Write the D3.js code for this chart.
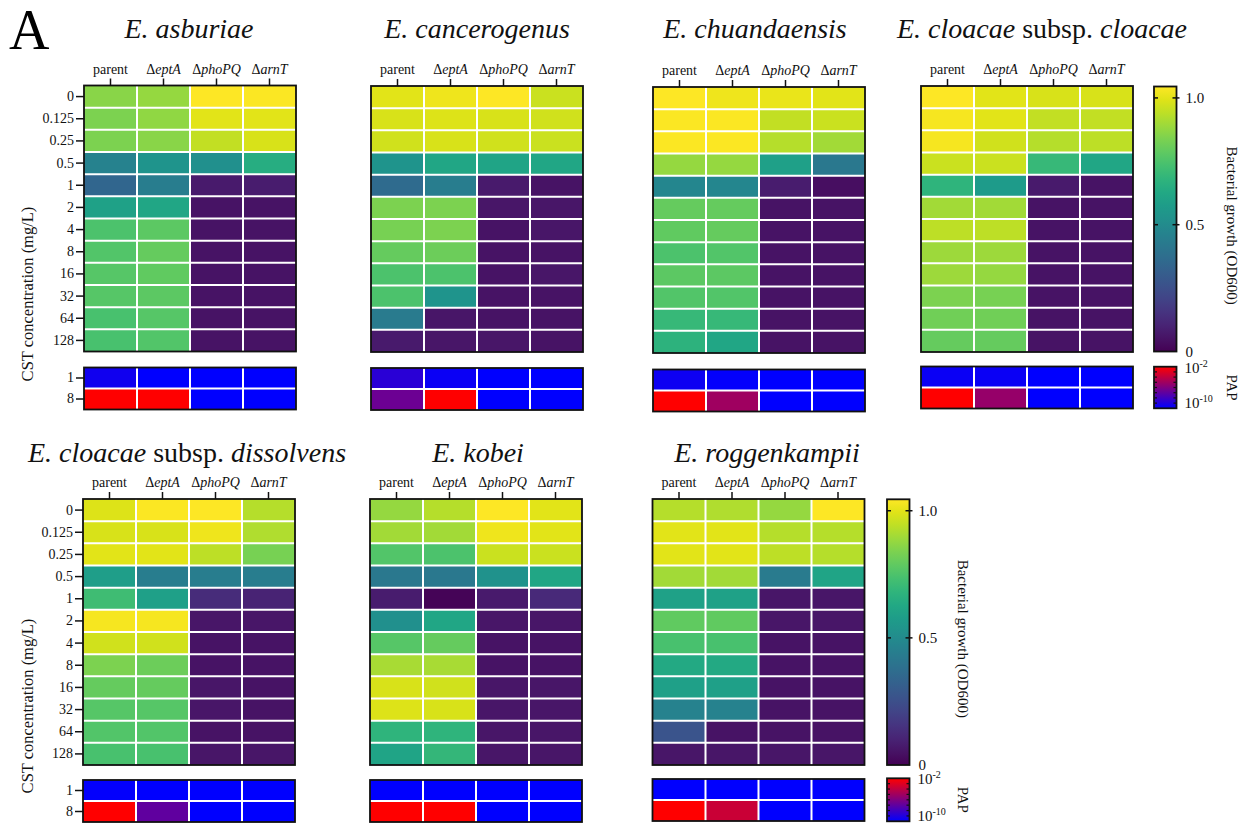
<!DOCTYPE html>
<html>
<head>
<meta charset="utf-8">
<script src="https://cdn.jsdelivr.net/npm/d3@7"></script>
<style>
  body { margin: 0; background: #fff; }
  svg, svg text { font-family: "Liberation Serif", "Times New Roman", serif; }
</style>
</head>
<body>
<div id="chart"></div>
<script>
// CST concentrations (mg/L) on the rows, strains on the columns
const concentrations = ["0", "0.125", "0.25", "0.5", "1", "2", "4", "8", "16", "32", "64", "128"];
const strains = ["parent", "eptA", "phoPQ", "arnT"];
const papConcentrations = ["1", "8"];

// bacterial growth (OD600), one row per concentration: parent, eptA, phoPQ, arnT
const growthAsburiae = [
    [0.86, 0.88, 1.05, 1.04],
    [0.84, 0.87, 1.00, 1.00],
    [0.84, 0.86, 0.95, 0.98],
    [0.46, 0.54, 0.52, 0.65],
    [0.34, 0.44, 0.07, 0.08],
    [0.60, 0.62, 0.05, 0.05],
    [0.75, 0.78, 0.05, 0.05],
    [0.76, 0.80, 0.05, 0.05],
    [0.77, 0.79, 0.05, 0.05],
    [0.77, 0.78, 0.05, 0.05],
    [0.74, 0.77, 0.05, 0.05],
    [0.74, 0.76, 0.05, 0.05]
];
const growthCancerogenus = [
    [1.00, 1.02, 1.05, 0.96],
    [0.98, 0.99, 0.98, 0.97],
    [0.97, 0.98, 0.97, 0.96],
    [0.54, 0.62, 0.61, 0.62],
    [0.36, 0.44, 0.07, 0.05],
    [0.84, 0.84, 0.06, 0.06],
    [0.83, 0.84, 0.05, 0.06],
    [0.80, 0.81, 0.05, 0.05],
    [0.75, 0.75, 0.05, 0.06],
    [0.75, 0.54, 0.05, 0.05],
    [0.43, 0.06, 0.05, 0.05],
    [0.07, 0.06, 0.06, 0.05]
];
const growthChuandaensis = [
    [1.05, 1.02, 1.01, 1.00],
    [1.04, 1.04, 0.95, 0.96],
    [1.04, 1.04, 0.93, 0.90],
    [0.88, 0.88, 0.59, 0.42],
    [0.48, 0.48, 0.08, 0.04],
    [0.80, 0.80, 0.05, 0.05],
    [0.79, 0.80, 0.05, 0.05],
    [0.75, 0.76, 0.05, 0.05],
    [0.78, 0.78, 0.05, 0.05],
    [0.76, 0.76, 0.05, 0.05],
    [0.70, 0.70, 0.05, 0.05],
    [0.67, 0.62, 0.05, 0.05]
];
const growthCloacae = [
    [1.05, 1.00, 0.98, 0.98],
    [1.03, 1.00, 0.95, 0.95],
    [1.03, 0.97, 0.93, 0.94],
    [0.96, 0.96, 0.70, 0.62],
    [0.68, 0.57, 0.07, 0.05],
    [0.90, 0.90, 0.05, 0.05],
    [0.94, 0.94, 0.05, 0.05],
    [0.89, 0.89, 0.05, 0.05],
    [0.89, 0.88, 0.05, 0.05],
    [0.84, 0.83, 0.05, 0.05],
    [0.82, 0.82, 0.05, 0.05],
    [0.80, 0.80, 0.05, 0.05]
];
const growthDissolvens = [
    [0.99, 1.04, 1.05, 0.93],
    [0.98, 0.98, 1.02, 0.92],
    [1.00, 1.00, 0.94, 0.83],
    [0.58, 0.44, 0.44, 0.44],
    [0.72, 0.59, 0.13, 0.10],
    [1.03, 1.03, 0.06, 0.06],
    [0.97, 0.97, 0.05, 0.05],
    [0.84, 0.81, 0.05, 0.05],
    [0.80, 0.80, 0.06, 0.05],
    [0.77, 0.77, 0.06, 0.05],
    [0.76, 0.76, 0.05, 0.05],
    [0.74, 0.74, 0.06, 0.06]
];
const growthKobei = [
    [0.88, 0.93, 1.05, 1.00],
    [0.90, 0.90, 1.02, 1.00],
    [0.76, 0.75, 0.96, 0.96],
    [0.42, 0.42, 0.53, 0.62],
    [0.08, 0.01, 0.07, 0.12],
    [0.52, 0.62, 0.06, 0.06],
    [0.77, 0.80, 0.05, 0.05],
    [0.91, 0.91, 0.05, 0.05],
    [0.98, 0.97, 0.06, 0.06],
    [0.99, 0.98, 0.06, 0.06],
    [0.68, 0.68, 0.06, 0.06],
    [0.61, 0.69, 0.06, 0.06]
];
const growthRoggenkampii = [
    [0.93, 0.92, 0.88, 1.05],
    [1.00, 1.00, 0.93, 0.93],
    [1.00, 1.00, 0.94, 0.93],
    [0.90, 0.90, 0.43, 0.61],
    [0.60, 0.60, 0.06, 0.06],
    [0.79, 0.79, 0.06, 0.06],
    [0.74, 0.74, 0.05, 0.05],
    [0.63, 0.63, 0.05, 0.05],
    [0.59, 0.59, 0.05, 0.05],
    [0.46, 0.46, 0.05, 0.05],
    [0.27, 0.05, 0.05, 0.05],
    [0.06, 0.06, 0.06, 0.06]
];

// PAP, log10 frequency, rows 1 and 8 mg/L
const papAsburiae      = [[-9.5, -10, -10, -10], [-2, -2, -10, -10]];
const papCancerogenus  = [[-8.7, -9.7, -10, -10], [-6.6, -2, -10, -10]];
const papChuandaensis  = [[-9.6, -9.9, -10, -10], [-2, -5.0, -10, -10]];
const papCloacae       = [[-9.7, -9.7, -10, -10], [-2, -5.3, -10, -10]];
const papDissolvens    = [[-9.9, -10, -10, -10], [-2, -7.0, -10, -10]];
const papKobei         = [[-10, -10, -10, -10], [-2, -2, -10, -10]];
const papRoggenkampii  = [[-10, -10, -10, -10], [-2, -3.7, -10, -10]];

// title pieces: [text, italic]
const titles = [
    [["E. asburiae", true]],
    [["E. cancerogenus", true]],
    [["E. chuandaensis", true]],
    [["E. cloacae", true], [" subsp. ", false], ["cloacae", true]],
    [["E. cloacae", true], [" subsp. ", false], ["dissolvens", true]],
    [["E. kobei", true]],
    [["E. roggenkampii", true]]
];
const growthSets = [growthAsburiae, growthCancerogenus, growthChuandaensis, growthCloacae,
    growthDissolvens, growthKobei, growthRoggenkampii];
const papSets = [papAsburiae, papCancerogenus, papChuandaensis, papCloacae,
    papDissolvens, papKobei, papRoggenkampii];

// layout
const FONT = '"Liberation Serif", "Times New Roman", serif';
const W = 212, H = 266, PH = 42;
const panels = [
    {x: 84,    y: 85.5, papY: 367.5, tx: 189,  ty: 38,  axis: true,  ly: 294},
    {x: 371,   y: 86,   papY: 368,   tx: 477,  ty: 38},
    {x: 653,   y: 87,   papY: 369.5, tx: 755,  ty: 38},
    {x: 921,   y: 86,   papY: 366.5, tx: 1042, ty: 38},
    {x: 83,    y: 499,  papY: 780,   tx: 187,  ty: 462, axis: true, ly: 706},
    {x: 370,   y: 499,  papY: 780,   tx: 478,  ty: 462},
    {x: 652.5, y: 499,  papY: 779,   tx: 767,  ty: 462}
];
const colorbars = [
    {x: 1154, y: 86.5, h: 265, papY: 366.7, papH: 41.6, lx: 1227},
    {x: 887,  y: 499.3, h: 265.7, papY: 778.3, papH: 43, lx: 958}
];

const svg = d3.select('#chart').append('svg')
    .attr('width', 1243)
    .attr('height', 827)
    .attr('font-family', FONT);

const color = d3.scaleSequential(d3.interpolateViridis).domain([0, 1.045]);
const papColor = d3.scaleLinear().domain([-10, -2]).range(['#0000ff', '#ff0000'])
    .interpolate(d3.interpolateRgb);

svg.append('text')
    .attr('x', 9).attr('y', 49)
    .attr('font-size', 56)
    .text('A');

function drawGrid(g, x, y, w, h) {
    // white separators then black frame
    x.domain().slice(1).forEach(d => {
        g.append('line').attr('x1', x(d)).attr('x2', x(d)).attr('y1', 0).attr('y2', h)
            .attr('stroke', '#fff').attr('stroke-width', 2);
    });
    y.domain().slice(1).forEach(d => {
        g.append('line').attr('x1', 0).attr('x2', w).attr('y1', y(d)).attr('y2', y(d))
            .attr('stroke', '#fff').attr('stroke-width', 2);
    });
    g.append('rect').attr('width', w).attr('height', h)
        .attr('fill', 'none').attr('stroke', '#111').attr('stroke-width', 1.8);
}

function styleAxis(a) {
    a.attr('font-family', FONT).attr('font-size', 14);
    a.select('.domain').remove();
    a.selectAll('.tick line').attr('stroke', '#111').attr('stroke-width', 1.5);
    a.selectAll('.tick text').attr('font-family', FONT).attr('font-size', 14).attr('fill', '#111');
}

function drawPanel(p, i) {
    const growth = growthSets[i];
    const pap = papSets[i];

    const x = d3.scaleBand().domain(strains).range([0, W]);
    const y = d3.scaleBand().domain(concentrations).range([0, H]);
    const yp = d3.scaleBand().domain(papConcentrations).range([0, PH]);

    const g = svg.append('g').attr('transform', `translate(${p.x},${p.y})`);
    const cells = [];
    growth.forEach((row, r) => row.forEach((v, c) => cells.push({r: concentrations[r], c: strains[c], v})));
    g.selectAll('rect.cell')
        .data(cells)
        .enter().append('rect')
        .attr('class', 'cell')
        .attr('x', d => x(d.c))
        .attr('y', d => y(d.r))
        .attr('width', x.bandwidth())
        .attr('height', y.bandwidth())
        .attr('fill', d => color(d.v));
    drawGrid(g, x, y, W, H);

    // column labels
    const xa = g.append('g').call(d3.axisTop(x).tickSize(7).tickFormat(''));
    styleAxis(xa);
    const lab = g.selectAll('text.col')
        .data(strains)
        .enter().append('text')
        .attr('class', 'col')
        .attr('x', d => x(d) + x.bandwidth() / 2)
        .attr('y', -12)
        .attr('text-anchor', 'middle')
        .attr('font-family', FONT)
        .attr('font-size', 14)
        .attr('fill', '#111');
    lab.each(function(d) {
        const t = d3.select(this);
        if (d === 'parent') { t.text(d); return; }
        t.append('tspan').text('\u0394');
        t.append('tspan').attr('font-style', 'italic').text(d);
    });

    const gp = svg.append('g').attr('transform', `translate(${p.x},${p.papY})`);
    const pcells = [];
    pap.forEach((row, r) => row.forEach((v, c) => pcells.push({r: papConcentrations[r], c: strains[c], v})));
    gp.selectAll('rect.cell')
        .data(pcells)
        .enter().append('rect')
        .attr('class', 'cell')
        .attr('x', d => x(d.c))
        .attr('y', d => yp(d.r))
        .attr('width', x.bandwidth())
        .attr('height', yp.bandwidth())
        .attr('fill', d => papColor(d.v));
    drawGrid(gp, x, yp, W, PH);

    if (p.axis) {
        styleAxis(g.append('g').call(d3.axisLeft(y).tickSize(8).tickPadding(2)));
        styleAxis(gp.append('g').call(d3.axisLeft(yp).tickSize(8).tickPadding(2)));
        svg.append('text')
            .attr('transform', `translate(33,${p.ly}) rotate(-90)`)
            .attr('text-anchor', 'middle')
            .attr('font-family', FONT)
            .attr('font-size', 16.5)
            .attr('fill', '#111')
            .text('CST concentration (mg/L)');
    }

    const title = svg.append('text')
        .attr('x', p.tx).attr('y', p.ty)
        .attr('text-anchor', 'middle')
        .attr('font-family', FONT)
        .attr('font-size', 28)
        .attr('fill', '#111');
    titles[i].forEach(([s, it]) => {
        title.append('tspan').attr('font-style', it ? 'italic' : 'normal').text(s);
    });
}

panels.forEach(drawPanel);

const defs = svg.append('defs');
const vg = defs.append('linearGradient').attr('id', 'viridis')
    .attr('x1', 0).attr('x2', 0).attr('y1', 1).attr('y2', 0);
d3.range(0, 1.0001, 0.05).forEach(t => {
    vg.append('stop').attr('offset', t).attr('stop-color', d3.interpolateViridis(t));
});
const pg = defs.append('linearGradient').attr('id', 'papgrad')
    .attr('x1', 0).attr('x2', 0).attr('y1', 1).attr('y2', 0);
pg.append('stop').attr('offset', 0).attr('stop-color', '#0000ff');
pg.append('stop').attr('offset', 1).attr('stop-color', '#ff0000');

colorbars.forEach(cb => {
    const cw = 22.5;
    const g = svg.append('g').attr('transform', `translate(${cb.x},${cb.y})`);
    g.append('rect').attr('width', cw).attr('height', cb.h).attr('fill', 'url(#viridis)');
    const s = d3.scaleLinear().domain([0, 1.045]).range([cb.h, 0]);
    const ticks = [0, 0.5, 1.0];
    g.selectAll('line.in').data(ticks.slice(1)).enter().append('line')
        .attr('x1', 0).attr('x2', 4).attr('y1', d => s(d)).attr('y2', d => s(d))
        .attr('stroke', '#111').attr('stroke-width', 1.5);
    const ax = g.append('g').attr('transform', `translate(${cw},0)`)
        .call(d3.axisRight(s).tickValues(ticks).tickSize(0).tickPadding(9)
            .tickFormat(d => d === 0 ? '0' : d3.format('.1f')(d)));
    styleAxis(ax);
    ax.selectAll('.tick text').attr('font-size', 15);
    g.selectAll('line.out').data(ticks.slice(1)).enter().append('line')
        .attr('x1', cw - 4).attr('x2', cw + 3).attr('y1', d => s(d)).attr('y2', d => s(d))
        .attr('stroke', '#111').attr('stroke-width', 1.5);
    g.append('rect').attr('width', cw).attr('height', cb.h)
        .attr('fill', 'none').attr('stroke', '#111').attr('stroke-width', 1.8);
    svg.append('text')
        .attr('transform', `translate(${cb.lx},${cb.y + cb.h * 0.525}) rotate(90)`)
        .attr('text-anchor', 'middle')
        .attr('font-family', FONT)
        .attr('font-size', 15)
        .attr('fill', '#111')
        .text('Bacterial growth (OD600)');

    const gp = svg.append('g').attr('transform', `translate(${cb.x},${cb.papY})`);
    gp.append('rect').attr('width', cw).attr('height', cb.papH).attr('fill', 'url(#papgrad)');
    const sp = d3.scaleLinear().domain([-10, -2]).range([cb.papH, 0]);
    const decades = d3.range(-9, -2);
    gp.selectAll('line.m').data(decades).enter().append('line')
        .attr('x1', 0).attr('x2', 3).attr('y1', d => sp(d)).attr('y2', d => sp(d))
        .attr('stroke', '#111').attr('stroke-width', 1.2);
    gp.selectAll('line.n').data(decades).enter().append('line')
        .attr('x1', cw - 3).attr('x2', cw).attr('y1', d => sp(d)).attr('y2', d => sp(d))
        .attr('stroke', '#111').attr('stroke-width', 1.2);
    gp.append('rect').attr('width', cw).attr('height', cb.papH)
        .attr('fill', 'none').attr('stroke', '#111').attr('stroke-width', 1.8);
    [-2, -10].forEach(v => {
        const t = gp.append('text')
            .attr('x', cw + 8)
            .attr('y', sp(v) + (v === -2 ? 6 : 0))
            .attr('font-family', FONT)
            .attr('font-size', 15)
            .attr('fill', '#111');
        t.append('tspan').text('10');
        t.append('tspan').attr('font-size', 10).attr('dy', -6).text(v);
    });
    svg.append('text')
        .attr('transform', `translate(${cb.lx},${cb.papY + cb.papH / 2}) rotate(90)`)
        .attr('text-anchor', 'middle')
        .attr('font-family', FONT)
        .attr('font-size', 15)
        .attr('fill', '#111')
        .text('PAP');
});
</script>
</body>
</html>
